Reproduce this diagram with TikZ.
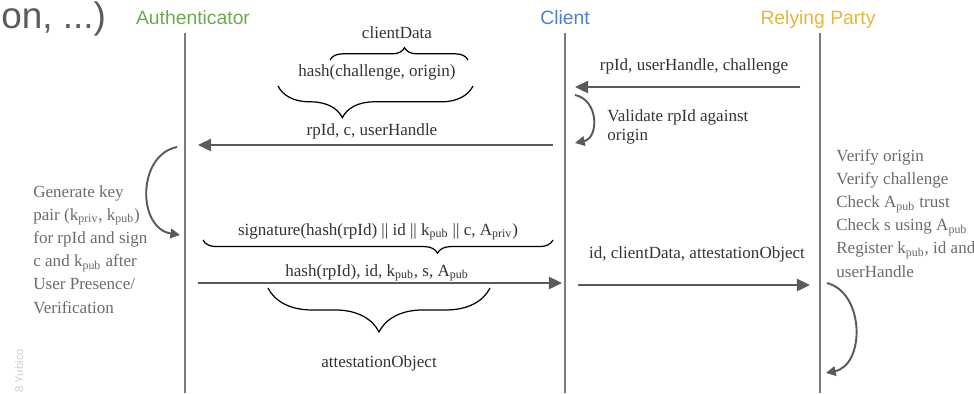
\documentclass[tikz,border=0pt]{standalone}
\usepackage{fontspec}
\setmainfont{Liberation Serif}
\newfontfamily\headfont{Liberation Sans}
\usetikzlibrary{arrows.meta,decorations.pathreplacing}
\definecolor{authgreen}{HTML}{6AAC4C}
\definecolor{clientblue}{HTML}{4C7FD4}
\definecolor{rpyellow}{HTML}{E2B838}
\definecolor{msgtext}{HTML}{333333}
\definecolor{notegray}{HTML}{6B6B6B}
\definecolor{lifegray}{HTML}{7B7B7B}
\definecolor{arrowgray}{HTML}{5A5A5A}
\definecolor{slidegray}{HTML}{5C5C5C}
\definecolor{markgray}{HTML}{CFCFCF}
\begin{document}
\begin{tikzpicture}[x=0.02cm, y=-0.02cm, >={Triangle[length=7.5pt, width=7pt]},
	every node/.style={inner sep=0pt, text=msgtext, font=\fontsize{9.7}{13.2}\selectfont},
	lifeline/.style={draw=lifegray, line width=1.5pt},
	msg/.style={->, draw=arrowgray, line width=1.1pt},
	selfmsg/.style={-{Triangle[length=5.5pt, width=5.5pt]}, draw=arrowgray, line width=1.1pt},
	head/.style={anchor=base, font=\headfont\fontsize{11}{13}\selectfont},
	note/.style={align=left, anchor=base west, text=notegray},
	curly/.style={decorate, draw=black, line width=0.7pt}]
	\useasboundingbox (0,0) rectangle (974,393);
	
	% 1. 幻灯片残留文字 (背景层)
	\node[anchor=base west, text=slidegray, font=\headfont\fontsize{21}{25}\selectfont] (slide) at (1,28) {on, ...)};
	\node[anchor=west, rotate=90, text=markgray, font=\headfont\fontsize{6.5}{8}\selectfont] (mark) at (19,393) {8 Yubico};
	
	% 2. 参与者与生命线
	\node[head, text=authgreen] (auth) at (193,24) {Authenticator};
	\node[head, text=clientblue] (client) at (565,24) {Client};
	\node[head, text=rpyellow] (rp) at (818,24) {Relying Party};
	\coordinate (auth-top) at (185,33);   \coordinate (auth-bot) at (185,393);
	\coordinate (client-top) at (565,33); \coordinate (client-bot) at (565,393);
	\coordinate (rp-top) at (820,33);     \coordinate (rp-bot) at (820,393);
	\draw[lifeline] (auth-top) -- (auth-bot);
	\draw[lifeline] (client-top) -- (client-bot);
	\draw[lifeline] (rp-top) -- (rp-bot);
	
	% 3. 消息箭头与标签
	\coordinate (m1-a) at (800,87); \coordinate (m1-b) at (575,87);
	\coordinate (m2-a) at (553,145); \coordinate (m2-b) at (198,145);
	\coordinate (m3-a) at (198,283); \coordinate (m3-b) at (562,283);
	\coordinate (m4-a) at (578,285); \coordinate (m4-b) at (810,285);
	\draw[msg] (m1-a) -- (m1-b);
	\draw[msg] (m2-a) -- (m2-b);
	\draw[msg] (m3-a) -- (m3-b);
	\draw[msg] (m4-a) -- (m4-b);
	\node[anchor=base] (m1-label) at (694,70) {rpId, userHandle, challenge};
	\node[anchor=base] (m2-label) at (372,135) {rpId, c, userHandle};
	\node[anchor=base] (m3-label) at (377,276) {hash(rpId), id, k\textsubscript{pub}, s, A\textsubscript{pub}};
	\node[anchor=base] (m4-label) at (697,258) {id, clientData, attestationObject};
	
	% 4. 自身处理弧线与说明
	\coordinate (c-self-a) at (575,95);  \coordinate (c-self-b) at (575,143);
	\coordinate (a-self-a) at (177,147); \coordinate (a-self-b) at (180,235);
	\coordinate (r-self-a) at (827,283); \coordinate (r-self-b) at (826,373);
	\draw[selfmsg] (c-self-a) .. controls (599,100) and (599,138) .. (c-self-b);
	\draw[selfmsg] (a-self-a) .. controls (137,155) and (137,228) .. (a-self-b);
	\draw[selfmsg] (r-self-a) .. controls (865,293) and (865,365) .. (r-self-b);
	\node[note, text=msgtext, font=\fontsize{9.7}{10.6}\selectfont] (validate) at (607,140) {Validate rpId against\\origin};
	\node[note] (generate) at (33,313) {Generate key\\pair (k\textsubscript{priv}, k\textsubscript{pub})\\for rpId and sign\\c and k\textsubscript{pub} after\\User Presence/\\Verification};
	\node[note] (verify) at (836,277) {Verify origin\\Verify challenge\\Check A\textsubscript{pub} trust\\Check s using A\textsubscript{pub}\\Register k\textsubscript{pub}, id and\\userHandle};
	
	% 5. 花括号与数据名称
	\node[anchor=base] (cdata) at (397,38) {clientData};
	\node[anchor=base] (hashcd) at (377,76) {hash(challenge, origin)};
	\node[anchor=base] (sig) at (378,235) {signature(hash(rpId) || id || k\textsubscript{pub} || c, A\textsubscript{priv})};
	\node[anchor=base] (attobj) at (379,367) {attestationObject};
	\coordinate (cd-l) at (330,60);    \coordinate (cd-r) at (468,60);
	\coordinate (hash-l) at (278,86);  \coordinate (hash-r) at (473,86);
	\coordinate (sig-l) at (203,240);  \coordinate (sig-r) at (553,240);
	\coordinate (att-l) at (268,288);  \coordinate (att-r) at (490,288);
	\draw[curly, decoration={brace, amplitude=7pt, aspect=0.54}] (cd-l) -- (cd-r);
	\draw[curly, decoration={brace, mirror, amplitude=18pt, aspect=0.33}] (hash-l) -- (hash-r);
	\draw[curly, decoration={brace, mirror, amplitude=7.5pt, aspect=0.67}] (sig-l) -- (sig-r);
	\draw[curly, decoration={brace, mirror, amplitude=25pt, aspect=0.5}] (att-l) -- (att-r);
\end{tikzpicture}
\end{document}
